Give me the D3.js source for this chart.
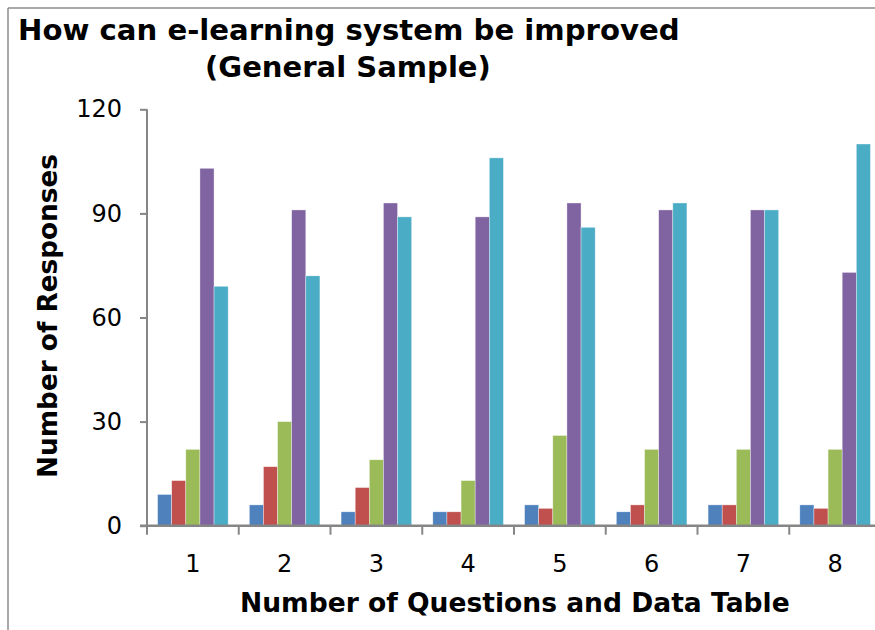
<!DOCTYPE html>
<html><head><meta charset="utf-8">
<script src="https://cdn.jsdelivr.net/npm/d3@7"></script>
<style>body{margin:0;background:#fff}svg{display:block}</style>
</head><body>
<svg id="c" width="875" height="630"></svg>
<script>
const categories = ["1","2","3","4","5","6","7","8"];
const seriesNames = ["S1","S2","S3","S4","S5"];
const s1 = [9, 6, 4, 4, 6, 4, 6, 6];
const s2 = [13, 17, 11, 4, 5, 6, 6, 5];
const s3 = [22, 30, 19, 13, 26, 22, 22, 22];
const s4 = [103, 91, 93, 89, 93, 91, 91, 73];
const s5 = [69, 72, 89, 106, 86, 93, 91, 110];
const yTicks = [0, 30, 60, 90, 120];
const colors = ["#4F81BD","#C0504D","#9BBB59","#8064A2","#4BACC6"];
const seriesVals = [s1, s2, s3, s4, s5];

const svg = d3.select("#c");
const font = "Verdana, 'DejaVu Sans', sans-serif";
const axisCol = "#868686";

// frame
svg.append("line").attr("x1",8).attr("y1",8).attr("x2",875).attr("y2",8).attr("stroke","#8c8c8c").attr("stroke-width",1.5);
svg.append("line").attr("x1",8).attr("y1",8).attr("x2",8).attr("y2",630).attr("stroke","#8c8c8c").attr("stroke-width",1.5);

const plot = {left:147, right:881, top:109.3, bottom:525.7};
const x0 = d3.scaleBand().domain(categories).range([plot.left, plot.right]).paddingInner(0).paddingOuter(0);
const bw = x0.bandwidth();
const barW = bw / 6.5;
const x1 = d3.scaleBand().domain(seriesNames).range([barW*0.75, bw - barW*0.75]).padding(0);
const y = d3.scaleLinear().domain([0,120]).range([plot.bottom, plot.top]);

// bars
const data = [];
categories.forEach((c,i)=> seriesNames.forEach((s,j)=> data.push({c, s, v: seriesVals[j][i], col: colors[j]})));
svg.append("g").selectAll("rect").data(data).join("rect")
  .attr("x", d=>x0(d.c)+x1(d.s))
  .attr("y", d=>y(d.v))
  .attr("width", x1.bandwidth())
  .attr("height", d=>y(0)-y(d.v))
  .attr("fill", d=>d.col)
  .attr("stroke","rgba(255,255,255,0.6)").attr("stroke-width",0.6);

// y axis
const yAxis = svg.append("g").attr("transform",`translate(${plot.left},0)`)
  .call(d3.axisLeft(y).tickValues(yTicks).tickSize(7).tickPadding(18));
yAxis.select(".domain").attr("stroke",axisCol).attr("stroke-width",2).attr("d",`M0,${plot.top}V${plot.bottom}`);
yAxis.selectAll(".tick line").attr("stroke",axisCol).attr("stroke-width",2);
yAxis.selectAll(".tick text").attr("font-family",font).attr("font-size",24).attr("fill","#000");

// x axis
const xAxis = svg.append("g").attr("transform",`translate(0,${plot.bottom})`)
  .call(d3.axisBottom(x0).tickSize(0).tickPadding(29));
xAxis.select(".domain").attr("stroke",axisCol).attr("stroke-width",2.5).attr("d",`M${plot.left-7},0H875`);
xAxis.selectAll(".tick text").attr("font-family",font).attr("font-size",24).attr("fill","#000");
// category boundary ticks
const bounds = categories.map(c=>x0(c)).concat([plot.right]);
svg.append("g").selectAll("line").data(bounds).join("line")
  .attr("x1",d=>d).attr("x2",d=>d).attr("y1",plot.bottom).attr("y2",plot.bottom+9)
  .attr("stroke",axisCol).attr("stroke-width",2);

// titles: size font so the natural width matches the reference
function fitText(sel, w){
  const n = sel.node();
  const fs = +sel.attr("font-size");
  const l = n.getComputedTextLength();
  sel.attr("font-size", fs * w / l);
}
const t1 = svg.append("text").attr("x",18).attr("y",40).attr("font-family",font).attr("font-weight","bold").attr("font-size",23).text("How can e-learning system be improved");
fitText(t1, 662);
const t2 = svg.append("text").attr("x",205).attr("y",77).attr("font-family",font).attr("font-weight","bold").attr("font-size",23).text("(General Sample)");
fitText(t2, 286);
const xt = svg.append("text").attr("x",240).attr("y",612).attr("font-family",font).attr("font-weight","bold").attr("font-size",22).text("Number of Questions and Data Table");
fitText(xt, 550);
const yt = svg.append("text").attr("transform","translate(57,478) rotate(-90)").attr("font-family",font).attr("font-weight","bold").attr("font-size",22).text("Number of Responses");
fitText(yt, 324);
</script>
</body></html>
